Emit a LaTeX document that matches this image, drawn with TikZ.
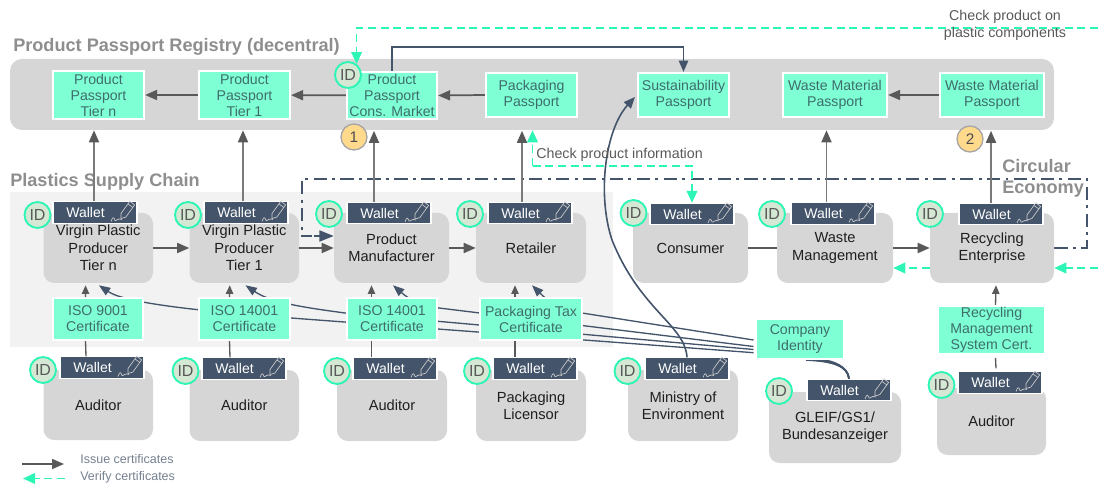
\documentclass[tikz,border=0pt]{standalone}
\usepackage{fontspec}
\setmainfont{Liberation Sans}
\usetikzlibrary{arrows.meta,calc}
\pgfdeclarelayer{regions}
\pgfdeclarelayer{links}
\pgfsetlayers{regions,links,main}
\definecolor{regbg}{HTML}{D6D6D6}
\definecolor{chainbg}{HTML}{F2F2F2}
\definecolor{aqua}{HTML}{7FFFD4}
\definecolor{mint}{HTML}{2CF5B5}
\definecolor{slate}{HTML}{44546A}
\definecolor{arrgray}{HTML}{7A7A7A}
\definecolor{headgray}{HTML}{595959}
\definecolor{passtxt}{HTML}{3E6D6C}
\definecolor{titlegray}{HTML}{8E8E8E}
\definecolor{idfill}{HTML}{D5E8D4}
\definecolor{numfill}{HTML}{FFD98C}
\definecolor{legtxt}{HTML}{75808F}
\tikzset{
  regionbox/.style={fill=regbg,draw=none,rounded corners=9pt,inner sep=0pt},
  chainbox/.style={fill=chainbg,draw=none,inner sep=0pt},
  actor/.style={fill=regbg,draw=none,rounded corners=8pt,inner sep=0pt,align=center,text=black!88,
    font=\fontsize{11}{13}\selectfont},
  passbox/.style={fill=aqua,draw=white,line width=1.6pt,inner sep=0pt,align=center,text=passtxt,
    font=\fontsize{10.6}{12}\selectfont},
  walletbox/.style={fill=slate,draw=white,line width=.8pt,inner sep=0pt,minimum width=63pt,minimum height=16pt},
  wallettxt/.style={text=white,inner sep=0pt,font=\fontsize{10.5}{12}\selectfont},
  idmark/.style={circle,fill=idfill,draw=mint,line width=1.4pt,minimum size=19.5pt,inner sep=0pt,text=headgray,
    font=\fontsize{12}{12}\selectfont},
  nummark/.style={circle,fill=numfill,draw=black!35,line width=1pt,minimum size=19.5pt,inner sep=0pt,text=black!70,
    font=\fontsize{11.5}{12}\selectfont},
  titletxt/.style={text=titlegray,inner sep=0pt,font=\bfseries\fontsize{13.6}{15.5}\selectfont,align=left},
  notetxt/.style={text=headgray,inner sep=0pt,align=center,font=\fontsize{10.7}{12.8}\selectfont},
  legendtxt/.style={text=legtxt,inner sep=0pt,anchor=west,font=\fontsize{9.4}{11}\selectfont},
  issue/.style={draw=arrgray,line width=1.3pt,-{Triangle[length=9pt,width=7.5pt,color=headgray]}},
  issuedark/.style={draw=headgray,line width=1.3pt,-{Triangle[length=9pt,width=7.5pt,color=headgray]}},
  smallarrow/.style={draw=headgray,line width=1pt,-{Triangle[length=6.5pt,width=5.5pt,color=headgray]}},
  plainlink/.style={draw=headgray,line width=1pt},
  verify/.style={draw=mint,line width=1.3pt,dash pattern=on 6pt off 3.5pt,-{Triangle[length=9pt,width=8pt,color=mint]}},
  darklink/.style={draw=slate,line width=1.2pt},
  darkarrow/.style={draw=slate,line width=1.2pt,-{Triangle[length=8.5pt,width=7pt,color=slate]}},
  certline/.style={draw=slate,line width=1pt,-{Triangle[length=8.5pt,width=6.5pt,color=slate]}},
  circular/.style={draw=slate,line width=2.2pt,dash pattern=on 10pt off 4pt on 2.2pt off 4pt},
}
\newcommand\bx[7]{\node[#1,minimum width={(#5-#3)*.75pt},minimum height={(#6-#4)*.75pt}] (#2) at ({(#3+#5)/2},{(#4+#6)/2}) {#7};}
\newcommand\wal[3]{%
  \node[walletbox] (#1) at (#2,#3) {};
  \node[wallettxt] (#1t) at ({#2-9.5},#3) {Wallet};
  \begin{scope}[shift={(#2,#3)},draw=white!80!black,line width=.5pt,line join=round]
    \draw (26,6) -- (30.8,4.6) -- (39.6,-7.6) -- (34.8,-11.2) -- (26,1) -- cycle;
    \draw (33.2,-8.4) -- (38,-4.9);
    \draw (16,9) .. controls (18,3) and (19,5) .. (20,8) .. controls (21,9) and (23,5) .. (27,7);
  \end{scope}}
\begin{document}
\begin{tikzpicture}[x=.75pt,y=-.75pt]
\useasboundingbox (0,0) rectangle (1098,484);
\begin{pgfonlayer}{regions}
\bx{regionbox}{reg}{10}{59}{1054}{130}{}
\bx{chainbox}{chain}{10}{192}{613}{347}{}
\end{pgfonlayer}
\node[titletxt,anchor=west] (t1) at (13,47) {Product Passport Registry (decentral)};
\node[titletxt,anchor=west] (t2) at (10,182) {Plastics Supply Chain};
\node[titletxt,anchor=west] (t3) at (1002,178.5) {Circular\\Economy};
% passports
\bx{passbox}{ptn}{53}{71}{144}{119}{Product\\Passport\\Tier n}
\bx{passbox}{pt1}{199}{71}{290}{119}{Product\\Passport\\Tier 1}
\bx{passbox}{pcm}{347}{72}{437}{119}{Product\\Passport\\Cons. Market}
\bx{passbox}{ppk}{486}{73}{577}{117}{Packaging\\Passport}
\bx{passbox}{psu}{638}{73}{729}{117}{Sustainability\\Passport}
\bx{passbox}{pw1}{783}{73}{887}{117}{Waste Material\\Passport}
\bx{passbox}{pw2}{940}{73}{1044}{117}{Waste Material\\Passport}
% actors
\bx{actor}{avn}{43.5}{213}{153}{283}{Virgin Plastic\\Producer\\Tier n}
\bx{actor}{av1}{189.5}{213}{299}{283}{Virgin Plastic\\Producer\\Tier 1}
\bx{actor}{apm}{334}{213}{449}{283}{Product\\Manufacturer}
\bx{actor}{art}{476}{213}{586}{283}{Retailer}
\bx{actor}{aco}{633}{213}{748}{283}{Consumer}
\bx{actor}{awm}{777}{213}{893}{283}{Waste\\Management}
\bx{actor}{are}{930}{213}{1054}{283}{Recycling\\Enterprise}
\bx{actor}{au1}{43.5}{370}{153}{440}{Auditor}
\bx{actor}{au2}{189.5}{370}{299}{441}{Auditor}
\bx{actor}{au3}{337}{370}{447}{441}{Auditor}
\bx{actor}{alc}{476}{370}{586}{441}{Packaging\\Licensor}
\bx{actor}{ami}{628}{370}{738}{441}{Ministry of\\Environment}
\bx{actor}{agl}{769}{392}{901}{463}{GLEIF/GS1/\\Bundesanzeiger}
\bx{actor}{au4}{937}{388}{1046}{455}{Auditor}
% certificates
\bx{passbox}{c1}{53}{298}{143}{340}{ISO 9001\\Certificate}
\bx{passbox}{c2}{199}{298}{290}{340}{ISO 14001\\Certificate}
\bx{passbox}{c3}{347}{298}{437}{340}{ISO 14001\\Certificate}
\bx{passbox}{c4}{480}{298}{582}{340}{Packaging Tax\\Certificate}
\bx{passbox}{cid}{756}{319}{844}{359}{Company\\Identity}
\bx{passbox}{crc}{938}{306}{1045}{354}{Recycling\\Management\\System Cert.}
% wallets
\wal{wvn}{95}{212.5}
\wal{wv1}{246}{212.5}
\wal{wpm}{389}{213}
\wal{wrt}{530}{213}
\wal{wco}{692}{214}
\wal{wwm}{833}{213.5}
\wal{wre}{1001}{214}
\wal{wu1}{102}{367.5}
\wal{wu2}{244}{368.5}
\wal{wu3}{395}{368.5}
\wal{wlc}{535}{368.5}
\wal{wmi}{687}{368.5}
\wal{wgl}{849}{390}
\wal{wu4}{1000}{382.5}
% id marks
\node[idmark] (i1) at (37.5,215) {ID};
\node[idmark] (i2) at (188,215) {ID};
\node[idmark] (i3) at (329,214) {ID};
\node[idmark] (i4) at (470,214) {ID};
\node[idmark] (i5) at (633.5,213) {ID};
\node[idmark] (i6) at (772,214) {ID};
\node[idmark] (i7) at (930,214) {ID};
\node[idmark] (i8) at (43,370) {ID};
\node[idmark] (i9) at (185.5,371) {ID};
\node[idmark] (i10) at (337,371) {ID};
\node[idmark] (i11) at (477,371) {ID};
\node[idmark] (i12) at (627.5,371) {ID};
\node[idmark] (i13) at (779,391) {ID};
\node[idmark] (i14) at (941.5,385) {ID};
\node[idmark] (i15) at (348,75) {ID};
\node[nummark] (n1) at (354,137) {1};
\node[nummark] (n2) at (970,139) {2};
% free ends
\coordinate (topright) at (1098,28);
\coordinate (sideright) at (1098,268);
\coordinate (cl1) at (753.5,340);
\coordinate (cl2) at (753.5,346.5);
\coordinate (cl3) at (753.5,349.5);
\coordinate (cl4) at (753.5,352.7);
\coordinate (pmin) at (334,236);
\coordinate (chkleft) at (532.5,166);
\coordinate (chkright) at (692,166);
% links under the nodes
\begin{pgfonlayer}{links}
\draw[circular] (are.east) -- (1087,248) -- (1087,179) -- (302,179) -- (302,236) -- (312,236);
\draw[certline] (cl1) -- (582,313) .. controls (560,309) and (550,303) .. ($(art.south)+(1,2)$);
\draw[certline] (cl2) -- (439,308) .. controls (420,305) and (410,300) .. ($(apm.south)+(1.5,2)$);
\draw[certline] (cl3) -- (345,313) .. controls (300,307) and (270,302) .. ($(av1.south)+(1.3,2)$);
\draw[certline] (cl4) -- (291,318) .. controls (198,311) and (125,303) .. ($(avn.south)+(.7,2)$);
\foreach \ex in {806,812,818,824}
  \draw[darklink] (wgl.north) .. controls (848,366) and (832,361) .. (cid.south -| \ex,0);
\end{pgfonlayer}
% registry arrows
\draw[issuedark] (pt1) -- (ptn);
\draw[issuedark] (pcm) -- (pt1);
\draw[issuedark] (ppk.west) -- (pcm.east);
\draw[issuedark] (pw2) -- (pw1);
\draw[issue] ($(wvn.north)+(-1,0)$) -- ++(0,-71);
\draw[issue] ($(wv1.north)+(-3,0)$) -- ++(0,-71);
\draw[issue] ($(wpm.north)+(-15,0)$) -- ++(0,-71);
\draw[issue] ($(wrt.north)+(-8,0)$) -- ++(0,-71);
\draw[issue] ($(wwm.north)+(-6.5,0)$) -- ++(0,-72);
\draw[issue] ($(wre.north)+(-10,0)$) -- ++(0,-72);
% supply chain arrows
\draw[issuedark] (avn.east) -- (av1.west);
\draw[issuedark] (av1.east) -- (apm.west);
\draw[issuedark] (apm.east) -- (art.west);
\draw[plainlink,line width=1.3pt] (aco.east) -- (awm.west);
\draw[issuedark] (awm.east) -- (are.west);
\draw[slate,line width=2.2pt,-{Triangle[length=11pt,width=8pt,color=slate]}] (314,236) -- (pmin);
% certificate arrows
\draw[smallarrow] ($(c1.north)+(-12.5,0)$) -- ($(avn.south)+(-12.7,2)$);
\draw[smallarrow] ($(c2.north)+(-15,0)$) -- ($(av1.south)+(-14.5,2)$);
\draw[smallarrow] ($(c3.north)+(-20.5,0)$) -- ($(apm.south)+(-20,2)$);
\draw[smallarrow] ($(c4.north)+(-16,0)$) -- ($(art.south)+(-16,2)$);
\draw[smallarrow] ($(crc.north)+(4,0)$) -- ($(are.south)+(4,2)$);
\draw[plainlink] ($(wu1.north)+(-16,0)$) -- ($(c1.south)+(-12.5,0)$);
\draw[plainlink] ($(wu2.north)+(-14,0)$) -- ($(c2.south)+(-15,0)$);
\draw[plainlink] ($(wu3.north)+(-23.5,0)$) -- ($(c3.south)+(-20.5,0)$);
\draw[plainlink] ($(wlc.north)+(-20,0)$) -- ($(c4.south)+(-16,0)$);
\draw[plainlink] ($(wu4.north)+(-4,-3)$) -- ($(crc.south)+(4,3)$);
% dark connectors
\draw[darkarrow] (pcm.north) -- ++(0,-24) -| (psu.north);
\draw[darkarrow] (wmi.north) .. controls (685,325) and (640,310) .. (612,240)
   .. controls (597,195) and (605,130) .. ($(psu.west)+(-2,2)$);
% verify
\draw[verify] (topright) -| (i15.52);
\draw[verify] (sideright) -- (are.east |- sideright);
\draw[verify] (are.west |- sideright) -- (awm.east |- sideright);
\draw[verify] (chkleft) -- (chkleft |- reg.south);
\draw[verify] (chkleft) -- (chkright) -- (wco.north);
\node[notetxt,anchor=west] (chk) at (536,155) {Check product information};
\node[notetxt] (chk2) at (1005,25.5) {Check product on\\plastic components};
% legend
\coordinate (lg1a) at (22,464);
\coordinate (lg1b) at (64,464);
\coordinate (lg2a) at (65,478.5);
\coordinate (lg2b) at (23,478.5);
\draw[issuedark] (lg1a) -- (lg1b);
\draw[verify] (lg2a) -- (lg2b);
\node[legendtxt] (lt1) at (80,459) {Issue certificates};
\node[legendtxt] (lt2) at (80,477) {Verify certificates};
\end{tikzpicture}
\end{document}
